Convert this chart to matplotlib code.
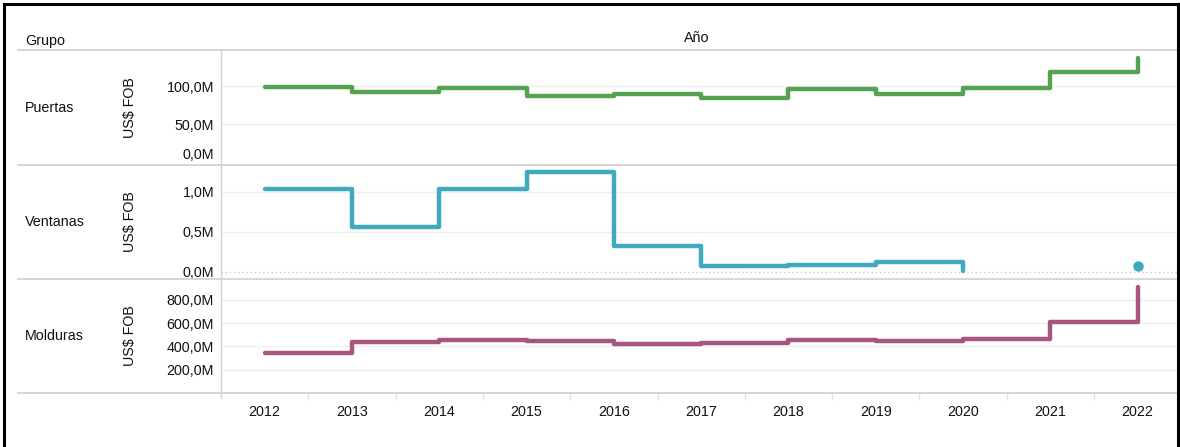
import numpy as np
import matplotlib
matplotlib.use("Agg")
import matplotlib.pyplot as plt
from matplotlib.lines import Line2D
from matplotlib.ticker import FuncFormatter

plt.rcParams['font.family'] = ['Liberation Sans', 'DejaVu Sans']

years = [2012, 2013, 2014, 2015, 2016, 2017, 2018, 2019, 2020, 2021, 2022]
groups = ["Puertas", "Ventanas", "Molduras"]
# values in millions of US$ FOB
puertas = [99.0, 93.0, 98.0, 87.0, 90.0, 85.5, 96.5, 89.5, 98.0, 118.5, 138.0]
ventanas = [1.03, 0.5625, 1.03, 1.245, 0.32, 0.075, 0.09, 0.125, 0.004, np.nan, 0.07]
molduras = [339.0, 437.0, 454.0, 443.0, 418.0, 429.0, 452.0, 443.0, 460.0, 607.0, 913.0]
colors = ["#55A352", "#3FAABD", "#A8557F"]
yticks = [[0, 50, 100], [0.0, 0.5, 1.0], [200, 400, 600, 800]]
ylims = [(-3.3, 148.0), (-0.09, 1.334), (0, 978)]

W, H = 1180, 447
fig = plt.figure(figsize=(W / 100, H / 100), dpi=100)
FS = 10.3
TC = "#111111"

def fx(px):
    return px / W

def fy(py):
    return 1 - py / H

left_px, right_px = 221, 1178
rows = [(50, 165), (165, 279), (279, 393)]
xlim = (2011.5, 2011.5 + (right_px - left_px) / 87.3)

series = [puertas, ventanas, molduras]
for i, (top, bot) in enumerate(rows):
    ax = fig.add_axes([fx(left_px), fy(bot), fx(right_px - left_px), (bot - top) / H])
    vals = np.array(series[i], dtype=float)
    yrs = np.array(years)
    # split into contiguous non-missing runs
    valid = ~np.isnan(vals)
    k = 0
    n = len(vals)
    while k < n:
        if not valid[k]:
            k += 1
            continue
        j = k
        while j + 1 < n and valid[j + 1]:
            j += 1
        if j > k:
            ax.plot(yrs[k:j + 1], vals[k:j + 1], drawstyle="steps-post", color=colors[i], lw=3.2,
                    solid_capstyle="round", solid_joinstyle="round", zorder=3)
        else:
            ax.plot([yrs[k]], [vals[k]], "o", color=colors[i], ms=6.5, zorder=3)
        k = j + 1
    ax.set_xlim(*xlim)
    ax.set_ylim(*ylims[i])
    ax.set_yticks(yticks[i])
    ax.yaxis.set_major_formatter(FuncFormatter(lambda v, p: f"{v:.1f}M".replace(".", ",")))
    ax.tick_params(axis="y", length=0, pad=5, labelsize=FS, labelcolor=TC)
    if i == 0:
        ax.yaxis.get_major_ticks()[0].label1.set_va("bottom")
    for yv in yticks[i]:
        if yv == 0 and i == 1:
            ax.axhline(0, color="#C8C8C8", lw=1.0, ls=(0, (1, 2)), zorder=1)
        elif yv != 0:
            ax.axhline(yv, color="#EFEFEF", lw=1.0, zorder=1)
    for s in ax.spines.values():
        s.set_visible(False)
    ax.set_xticks(years)
    if i < 2:
        ax.tick_params(axis="x", bottom=False, labelbottom=False)
    else:
        ax.tick_params(axis="x", length=0, pad=9, labelsize=FS, labelcolor=TC)
        ax.set_xticks([y + 0.5 for y in years[:-1]], minor=True)
        ax.tick_params(axis="x", which="minor", length=5, color="#E4E4E4", width=1)
    ax.patch.set_alpha(0)
    fig.text(fx(25), fy((top + bot) / 2), groups[i], fontsize=FS, ha="left", va="center", color=TC)
    fig.text(fx(130), fy((top + bot) / 2), "US$ FOB", fontsize=FS, rotation=90,
             ha="center", va="center", color=TC)

# header
fig.text(fx(25), fy(41), "Grupo", fontsize=FS, ha="left", va="center", color=TC)
fig.text(fx(697), fy(38), "Año", fontsize=FS, ha="center", va="center", color=TC)

# separators
for yy in [50, 165, 279, 393]:
    fig.add_artist(Line2D([fx(18), fx(1178)], [fy(yy), fy(yy)], color="#D2D2D2", lw=1.3))
fig.add_artist(Line2D([fx(221), fx(221)], [fy(50), fy(398)], color="#D2D2D2", lw=1.0))

# outer frame
fig.add_artist(Line2D([fx(4), fx(4)], [0, fy(4)], color="black", lw=2.2))
fig.add_artist(Line2D([fx(4), fx(1178)], [fy(4), fy(4)], color="black", lw=2.2))
fig.add_artist(Line2D([fx(1178), fx(1178)], [0, fy(4)], color="black", lw=2.2))

fig.savefig("out.png", dpi=100)
